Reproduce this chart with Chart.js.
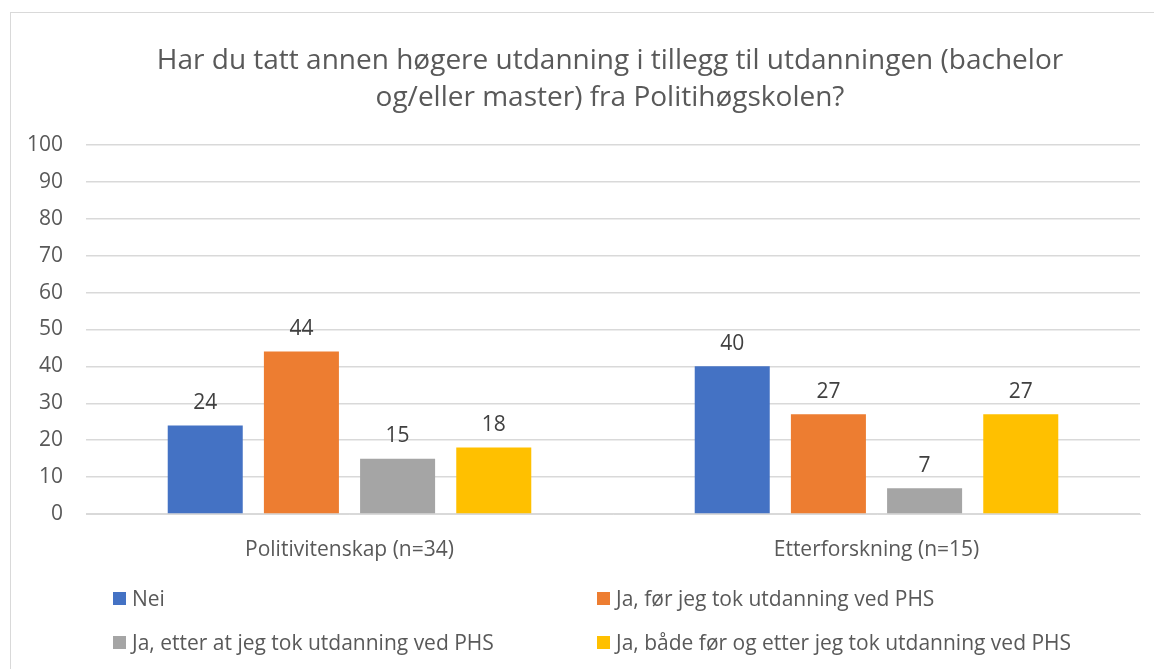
<!DOCTYPE html>
<html>
<head>
<meta charset="utf-8">
<script src="https://cdn.jsdelivr.net/npm/chart.js@4/dist/chart.umd.min.js"></script>
<style>
  body { margin: 0; background: #fff; font-family: "Open Sans", sans-serif; overflow: hidden; }
  #frame { position: absolute; left: 10px; top: 12px; width: 1200px; height: 700px; border: 1px solid #d9d9d9; }
  #wrap { position: absolute; left: 0; top: 0; width: 1220px; height: 669px; }
  #legend { position: absolute; left: 0; top: 0; width: 1154px; height: 669px; pointer-events: none; }
  .item { position: absolute; display: flex; align-items: center; height: 24px; font-size: 21px; color: #595959; white-space: nowrap; }
  .box { display: inline-block; width: 13px; height: 13px; margin-right: 6px; }
</style>
</head>
<body>
<div id="frame"></div>
<div id="wrap"><canvas id="myChart" width="1220" height="669"></canvas></div>
<div id="legend"></div>
<script>
// categories and values (percent)
const categories = ["Politivitenskap (n=34)", "Etterforskning (n=15)"];
const seriesNames = ["Nei", "Ja, før jeg tok utdanning ved PHS", "Ja, etter at jeg tok utdanning ved PHS", "Ja, både før og etter jeg tok utdanning ved PHS"];
const nei = [24, 40];
const jaFor = [44, 27];
const jaEtter = [15, 7];
const jaBegge = [18, 27];
const colors = ["#4472C4", "#ED7D31", "#A5A5A5", "#FFC000"];
const yTicks = [0, 10, 20, 30, 40, 50, 60, 70, 80, 90, 100];

const values = [nei, jaFor, jaEtter, jaBegge];
const data = {
  labels: categories,
  datasets: seriesNames.map((name, i) => ({
    label: name,
    data: values[i],
    backgroundColor: colors[i],
    barPercentage: 0.78,
    categoryPercentage: 0.73
  }))
};

const FONT = "'Open Sans', sans-serif";

// write the value above each bar
const valueLabels = {
  id: "valueLabels",
  afterDatasetsDraw(chart) {
    const ctx = chart.ctx;
    ctx.save();
    ctx.font = "21px " + FONT;
    ctx.fillStyle = "#404040";
    ctx.textAlign = "center";
    ctx.textBaseline = "bottom";
    chart.data.datasets.forEach((ds, i) => {
      chart.getDatasetMeta(i).data.forEach((bar, j) => {
        ctx.fillText(ds.data[j], bar.x, bar.y - 12);
      });
    });
    ctx.restore();
  }
};

const config = {
  type: "bar",
  data: data,
  options: {
    responsive: false,
    animation: false,
    layout: { padding: { left: 14, right: 14, top: 0, bottom: 95 } },
    plugins: {
      legend: { display: false },
      tooltip: { enabled: false },
      title: {
        display: true,
        text: ["Har du tatt annen høgere utdanning i tillegg til utdanningen (bachelor", "og/eller master) fra Politihøgskolen?"],
        color: "#595959",
        font: { family: FONT, size: 28, weight: "normal", lineHeight: 1.32 },
        padding: { top: 43, bottom: 28 }
      }
    },
    scales: {
      x: {
        grid: { display: false },
        border: { color: "#d9d9d9" },
        ticks: { color: "#595959", font: { family: FONT, size: 21 }, padding: 15 },
        afterFit(scale) { scale.height = 60; }
      },
      y: {
        min: 0,
        max: 100,
        afterBuildTicks(scale) { scale.ticks = yTicks.map(v => ({ value: v })); },
        grid: { color: "#d9d9d9", drawTicks: false, lineWidth: 1.5 },
        border: { display: false },
        ticks: { color: "#595959", font: { family: FONT, size: 21 }, padding: 23 },
        afterFit(scale) { scale.width = 72; }
      },
      // empty right axis: the original chart runs past the right edge of the picture
      y2: {
        position: "right",
        min: 0,
        max: 100,
        grid: { display: false },
        border: { display: false },
        ticks: { display: false },
        afterFit(scale) { scale.width = 66; }
      }
    }
  },
  plugins: [valueLabels]
};

const ctx = document.getElementById("myChart").getContext("2d");
const myChart = new Chart(ctx, config);

// two column legend under the chart
const legendPos = [[113, 586], [597, 586], [113, 630], [597, 630]];
const legend = document.getElementById("legend");
myChart.data.datasets.forEach((ds, i) => {
  const el = document.createElement("div");
  el.className = "item";
  el.style.left = legendPos[i][0] + "px";
  el.style.top = legendPos[i][1] + "px";
  el.innerHTML = `<span class="box" style="background:${ds.backgroundColor}"></span>${ds.label}`;
  legend.appendChild(el);
});
</script>
</body>
</html>
